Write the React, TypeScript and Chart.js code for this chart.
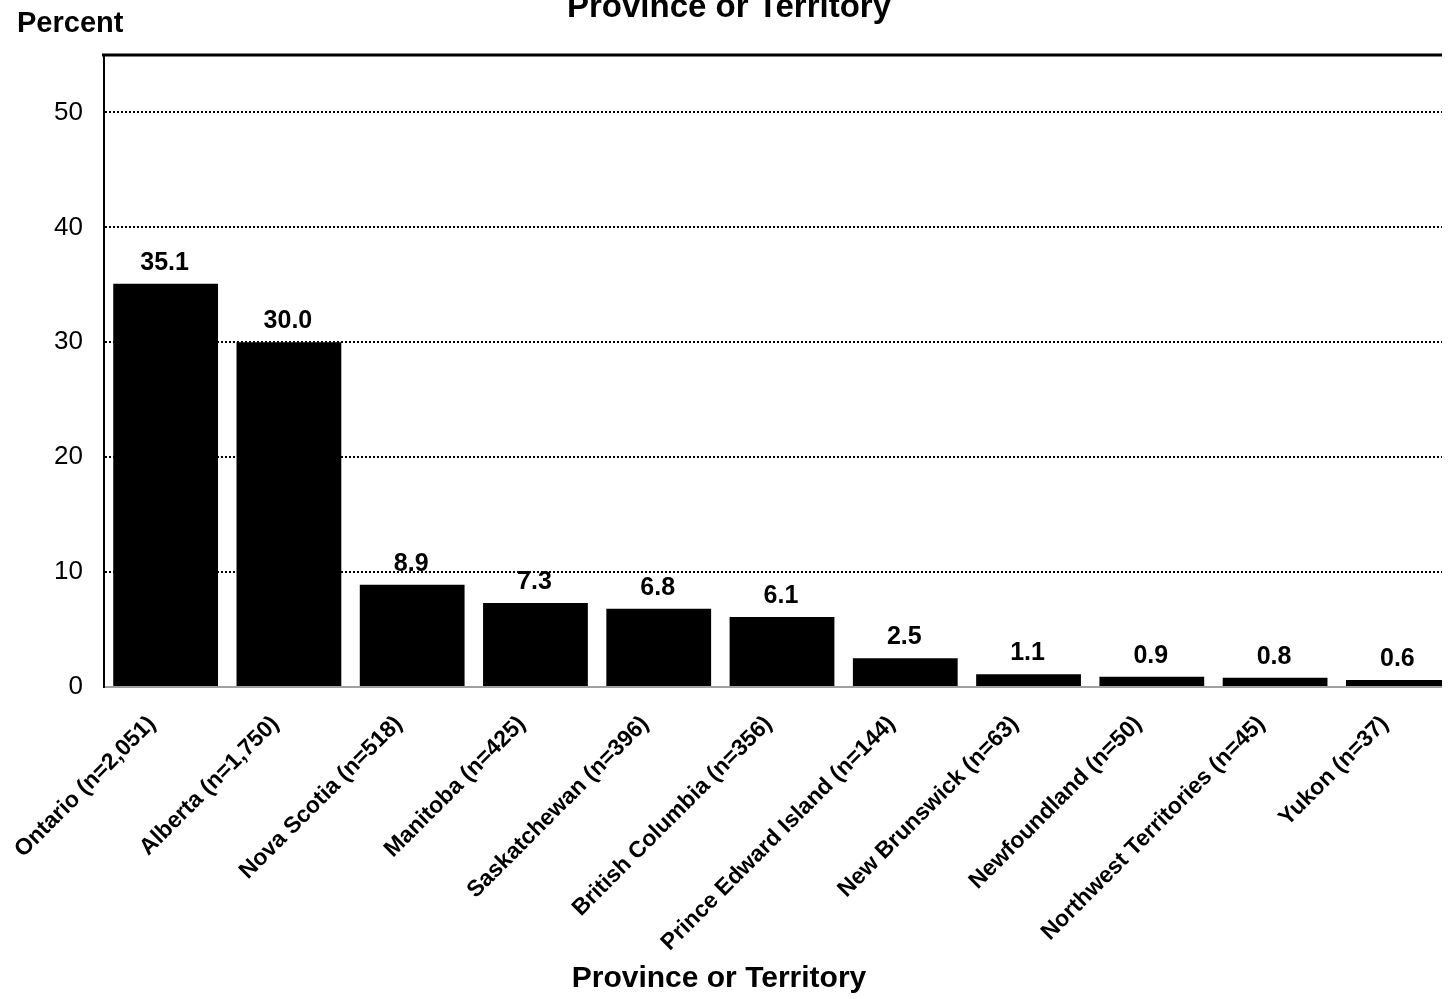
import React, { useEffect, useRef } from "react";
import { Chart, registerables } from "chart.js";

Chart.register(...registerables);

const categories = [
  "Ontario (n=2,051)",
  "Alberta (n=1,750)",
  "Nova Scotia (n=518)",
  "Manitoba (n=425)",
  "Saskatchewan (n=396)",
  "British Columbia (n=356)",
  "Prince Edward Island (n=144)",
  "New Brunswick (n=63)",
  "Newfoundland (n=50)",
  "Northwest Territories (n=45)",
  "Yukon (n=37)",
];
const values = [35.1, 30.0, 8.9, 7.3, 6.8, 6.1, 2.5, 1.1, 0.9, 0.8, 0.6];
const yTicks = [0, 10, 20, 30, 40, 50];
const chartTitle = "Province or Territory";
const xTitle = "Province or Territory";
const yTitle = "Percent";

const FONT = "Arial, 'Liberation Sans', sans-serif";

const textPlugin = {
  id: "textPlugin",
  afterDraw(chart: any) {
    const ctx = chart.ctx;
    const area = chart.chartArea;
    ctx.save();
    // top border
    ctx.strokeStyle = "#000";
    ctx.lineWidth = 3;
    ctx.beginPath();
    ctx.moveTo(area.left - 2, area.top);
    ctx.lineTo(chart.width, area.top);
    ctx.stroke();

    // data labels
    const meta = chart.getDatasetMeta(0);
    ctx.fillStyle = "#000";
    ctx.font = `bold 25px ${FONT}`;
    ctx.textAlign = "center";
    ctx.textBaseline = "alphabetic";
    meta.data.forEach((bar: any, i: number) => {
      ctx.fillText(values[i].toFixed(1), bar.x - 1, bar.y - 14);
    });

    // titles
    ctx.font = `bold 33px ${FONT}`;
    ctx.textAlign = "center";
    ctx.fillText(chartTitle, 729, 17);
    ctx.font = `bold 29px ${FONT}`;
    ctx.textAlign = "left";
    ctx.fillText(yTitle, 17, 32);
    ctx.font = `bold 30px ${FONT}`;
    ctx.textAlign = "center";
    ctx.fillText(xTitle, 719, 987);
    ctx.restore();
  },
};

export default function App() {
  const ref = useRef<HTMLCanvasElement>(null);
  useEffect(() => {
    if (!ref.current) return;
    const chart = new Chart(ref.current, {
      type: "bar",
      data: {
        labels: categories,
        datasets: [
          {
            data: values,
            backgroundColor: "#000",
            borderWidth: 0,
            barPercentage: 0.85,
            categoryPercentage: 1,
          },
        ],
      },
      options: {
        animation: false,
        responsive: false,
        devicePixelRatio: 1,
        layout: { padding: { top: 55, left: 0, right: 10, bottom: 0 } },
        plugins: {
          legend: { display: false },
          title: { display: false },
          tooltip: { enabled: false },
        },
        scales: {
          x: {
            grid: { display: false, drawTicks: false },
            border: { display: true, color: "#a0a0a0", width: 2 },
            ticks: {
              autoSkip: false,
              maxRotation: 45,
              minRotation: 45,
              padding: 10,
              color: "#000",
              font: { family: FONT, size: 23, weight: "bold" },
              callback: (_v: any, i: number) => categories[i] + "   ",
            },
            afterFit(scale: any) {
              scale.height = 312;
              scale.paddingLeft = 0;
              scale.paddingRight = 0;
            },
          },
          y: {
            min: 0,
            max: 55,
            grid: {
              drawTicks: false,
              lineWidth: 2,
              color: (c: any) => (c.tick && c.tick.value > 0 ? "#000" : "rgba(0,0,0,0)"),
            },
            border: { display: true, color: "#000", width: 2, dash: [2, 2] },
            ticks: {
              stepSize: 10,
              padding: 21,
              color: "#000",
              font: { family: FONT, size: 26 },
            },
            afterBuildTicks(scale: any) {
              scale.ticks = yTicks.map((v) => ({ value: v }));
            },
            afterFit(scale: any) {
              scale.width = 104;
              scale.paddingTop = 0;
              scale.paddingBottom = 0;
            },
          },
        },
      },
      plugins: [textPlugin],
    });
    return () => chart.destroy();
  }, []);
  return (
    <div
      style={{
        position: "fixed",
        left: 0,
        top: 0,
        width: 1442,
        height: 999,
        overflow: "hidden",
        background: "#fff",
      }}
    >
      <canvas ref={ref} width={1470} height={999} style={{ width: 1470, height: 999, display: "block" }} />
    </div>
  );
}
